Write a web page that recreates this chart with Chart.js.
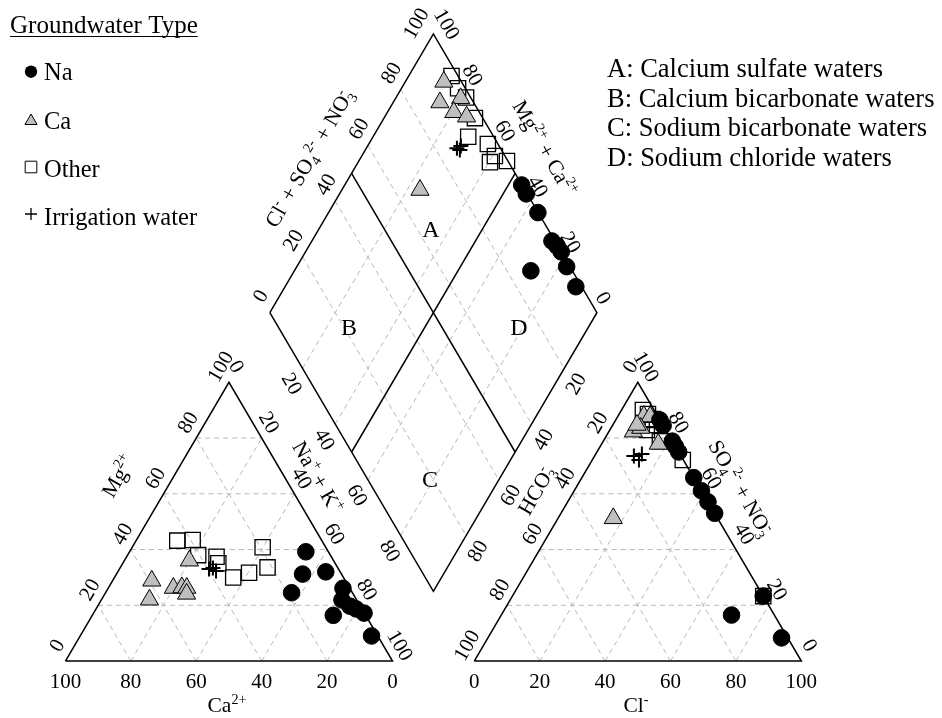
<!DOCTYPE html>
<html>
<head>
<meta charset="utf-8">
<title>Piper diagram</title>
<style>
  html, body { margin: 0; padding: 0; background: #fff; overflow: hidden; }
  canvas { display: block; }
</style>
<script src="https://cdn.jsdelivr.net/npm/chart.js@4/dist/chart.umd.min.js"></script>
</head>
<body>
<canvas id="piper" width="942" height="718"></canvas>
<script>
// ---- Cation triangle, % meq/L: [Ca2+, Mg2+, Na+ + K+] ----
const cationNa = [
  [6.9, 39.2, 53.9], [11.9, 31.2, 56.9], [4.4, 32.0, 63.6], [18.6, 24.5, 56.9],
  [2.1, 26.1, 71.8], [4.5, 21.9, 73.6], [3.2, 19.7, 77.1], [0.1, 17.2, 82.7],
  [9.9, 16.4, 73.7], [1.9, 9.0, 89.1], [1.8, 18.7, 79.5]
];
const cationCa = [
  [59.2, 28.8, 12.0], [63.3, 22.0, 14.7], [53.9, 26.2, 19.9], [51.2, 26.4, 22.4],
  [49.8, 26.2, 24.0], [50.9, 24.1, 25.0], [44.1, 36.0, 19.9]
];
const cationOther = [
  [44.2, 43.2, 12.6], [39.4, 43.4, 17.2], [40.4, 38.0, 21.6], [35.1, 37.4, 27.5],
  [35.7, 35.1, 29.2], [33.7, 30.0, 36.3], [28.0, 31.7, 40.3], [21.4, 33.6, 45.0],
  [19.3, 40.8, 39.9]
];
const cationIrrigation = [[39.6, 33.0, 27.4], [38.2, 33.4, 28.4], [37.8, 32.3, 29.9]];

// ---- Anion triangle, % meq/L: [Cl-, SO4 2- + NO3-, HCO3-] ----
const anionNa = [
  [13.5, 86.5, 0], [15.5, 84.5, 0], [21.1, 78.9, 0], [23.0, 77.0, 0], [25.0, 75.0, 0],
  [34.2, 65.8, 0], [38.9, 61.1, 0], [42.9, 57.1, 0], [47.0, 53.0, 0], [76.7, 23.3, 0],
  [70.4, 16.5, 13.1], [89.8, 8.3, 1.9]
];
const anionCa = [
  [7.5, 82.3, 10.2], [7.9, 87.9, 4.2], [9.9, 87.7, 2.4], [17.3, 77.9, 4.8],
  [9.1, 83.6, 7.3], [16.9, 51.2, 31.9], [7.4, 84.7, 7.9]
];
const anionOther = [
  [6.5, 90.1, 3.4], [8.8, 88.6, 2.6], [11.2, 86.8, 2.0], [13.5, 84.7, 1.8],
  [11.3, 82.9, 5.8], [17.3, 78.9, 3.8], [27.7, 72.1, 0.2], [76.7, 23.3, 0.0],
  [10.5, 86.5, 3.0]
];
const anionIrrigation = [[12.0, 73.6, 14.4], [14.3, 72.1, 13.6], [14.1, 74.3, 11.6]];

// ---- Diamond, %: [Na+ + K+, Cl- + SO4 2- + NO3-] ----
const diamondNa = [
  [54.1, 99.9], [57.1, 99.7], [64.0, 99.9], [73.4, 99.1], [75.8, 99.7],
  [78.2, 100.0], [82.5, 99.0], [88.9, 98.2], [72.3, 87.3]
];
const diamondCa = [[11.8, 94.6], [14.3, 89.7], [19.9, 96.8], [20.3, 92.2], [25.0, 95.3], [23.9, 67.9]];
const diamondOther = [
  [13.1, 98.0], [17.3, 97.8], [21.4, 98.6], [27.8, 97.6], [29.1, 92.2],
  [36.4, 96.9], [40.7, 96.9], [40.3, 94.3], [45.3, 99.7]
];
const diamondIrrigation = [[27.7, 86.7], [28.5, 88.3], [28.9, 87.3]];

// ---- Axis ticks, grid and legend text ----
const tickValues = [0, 20, 40, 60, 80, 100];
const innerTickValues = [20, 40, 60, 80];
const gridValues = [20, 40, 60, 80];
const groupNames = ['Na', 'Ca', 'Other', 'Irrigation water'];
const legendTitle = 'Groundwater Type';
const regionLetters = ['A', 'B', 'C', 'D'];
const regionNames = [
  'A: Calcium sulfate waters',
  'B: Calcium bicarbonate waters',
  'C: Sodium bicarbonate waters',
  'D: Sodium chloride waters'
];

// ---- Piper geometry (triangle side = 100 units) ----
const H = Math.sqrt(3) / 2;
const ANION_X0 = 125;                      // left corner of the anion triangle
const DIA_LEFT = { x: 62.5, y: 100 * H + 12.5 * Math.sqrt(3) };

const cat = ([ca, mg, na]) => ({ x: na + mg / 2, y: mg * H });
const ani = ([cl, so4]) => ({ x: ANION_X0 + cl + so4 / 2, y: so4 * H });
const dia = ([na, s]) => ({ x: DIA_LEFT.x + (s + na) / 2, y: DIA_LEFT.y + (s - na) * H });

const SERIF = '"Liberation Serif", "Times New Roman", serif';

function lineSet(points, opts) {
  return Object.assign({
    type: 'scatter', data: points, showLine: true, pointRadius: 0,
    borderColor: '#000', borderWidth: 1.5, fill: false, tension: 0,
    clip: false, order: 90
  }, opts || {});
}
const gridStyle = { borderColor: '#b8b8b8', borderWidth: 1, borderDash: [5, 4], order: 100 };

const datasets = [];

// dashed grid
gridValues.forEach(v => {
  datasets.push(lineSet([cat([100 - v, v, 0]), cat([0, v, 100 - v])], gridStyle));
  datasets.push(lineSet([cat([v, 0, 100 - v]), cat([v, 100 - v, 0])], gridStyle));
  datasets.push(lineSet([cat([100 - v, 0, v]), cat([0, 100 - v, v])], gridStyle));
  datasets.push(lineSet([ani([0, v]), ani([100 - v, v])], gridStyle));
  datasets.push(lineSet([ani([v, 0]), ani([v, 100 - v])], gridStyle));
  datasets.push(lineSet([ani([100 - v, 0]), ani([0, 100 - v])], gridStyle));
  datasets.push(lineSet([dia([0, v]), dia([100, v])], gridStyle));
  datasets.push(lineSet([dia([v, 0]), dia([v, 100])], gridStyle));
});

// outlines and the A/B/C/D dividers
datasets.push(lineSet([cat([100, 0, 0]), cat([0, 0, 100]), cat([0, 100, 0]), cat([100, 0, 0])]));
datasets.push(lineSet([ani([0, 0]), ani([100, 0]), ani([0, 100]), ani([0, 0])]));
datasets.push(lineSet([dia([0, 0]), dia([100, 0]), dia([100, 100]), dia([0, 100]), dia([0, 0])]));
datasets.push(lineSet([dia([50, 0]), dia([50, 100])]));
datasets.push(lineSet([dia([0, 50]), dia([100, 50])]));

// sample markers
const markerStyles = {
  Na:    { pointStyle: 'circle',   pointRadius: 8.3,  backgroundColor: '#000', borderColor: '#000', borderWidth: 1, order: 20 },
  Ca:    { pointStyle: 'triangle', pointRadius: 10.5, backgroundColor: '#bfbfbf', borderColor: '#000', borderWidth: 1, order: 30 },
  Other: { pointStyle: 'rect',     pointRadius: 10.8, backgroundColor: 'rgba(0,0,0,0)', borderColor: '#000', borderWidth: 1.3, order: 40 },
  Irr:   { pointStyle: 'cross',    pointRadius: 7.5,  backgroundColor: '#000', borderColor: '#000', borderWidth: 2, order: 10 }
};
function markers(label, pts, style) {
  return Object.assign({ type: 'scatter', label, data: pts, showLine: false, clip: false, pointHoverRadius: style.pointRadius }, style);
}
datasets.push(markers(groupNames[2], cationOther.map(cat), markerStyles.Other));
datasets.push(markers(groupNames[2], anionOther.map(ani), markerStyles.Other));
datasets.push(markers(groupNames[2], diamondOther.map(dia), markerStyles.Other));
datasets.push(markers(groupNames[1], cationCa.map(cat), markerStyles.Ca));
datasets.push(markers(groupNames[1], anionCa.map(ani), markerStyles.Ca));
datasets.push(markers(groupNames[1], diamondCa.map(dia), markerStyles.Ca));
datasets.push(markers(groupNames[0], cationNa.map(cat), markerStyles.Na));
datasets.push(markers(groupNames[0], anionNa.map(ani), markerStyles.Na));
datasets.push(markers(groupNames[0], diamondNa.map(dia), markerStyles.Na));
datasets.push(markers(groupNames[3], cationIrrigation.map(cat), markerStyles.Irr));
datasets.push(markers(groupNames[3], anionIrrigation.map(ani), markerStyles.Irr));
datasets.push(markers(groupNames[3], diamondIrrigation.map(dia), markerStyles.Irr));

// ---- text helpers ----
function drawRich(ctx, runs, cx, cy, deg, size) {
  const small = size * 0.66;
  const fontOf = s => `${s}px ${SERIF}`;
  const parts = runs.map(r => {
    if (typeof r === 'string') {
      ctx.font = fontOf(size);
      return { t: r, w: ctx.measureText(r).width };
    }
    ctx.font = fontOf(small);
    const ws = r.sup ? ctx.measureText(r.sup).width : 0;
    const wb = r.sub ? ctx.measureText(r.sub).width : 0;
    return { sup: r.sup, sub: r.sub, w: Math.max(ws, wb) };
  });
  const total = parts.reduce((a, p) => a + p.w, 0);
  ctx.save();
  ctx.translate(cx, cy);
  ctx.rotate(deg * Math.PI / 180);
  ctx.textAlign = 'left';
  ctx.textBaseline = 'alphabetic';
  let x = -total / 2;
  const base = size * 0.34;
  parts.forEach(p => {
    if (p.t !== undefined) {
      ctx.font = fontOf(size);
      ctx.fillText(p.t, x, base);
    } else {
      ctx.font = fontOf(small);
      if (p.sup) ctx.fillText(p.sup, x, base - size * 0.40);
      if (p.sub) ctx.fillText(p.sub, x, base + size * 0.22);
    }
    x += p.w;
  });
  ctx.restore();
}

function tickText(ctx, text, px, py, deg, size) {
  ctx.save();
  ctx.translate(px, py);
  ctx.rotate(deg * Math.PI / 180);
  ctx.font = `${size}px ${SERIF}`;
  ctx.textAlign = 'center';
  ctx.textBaseline = 'alphabetic';
  ctx.fillText(text, 0, size * 0.34);
  ctx.restore();
}

const TICK = 21;
const tickRows = [
  { values: tickValues,      at: v => cat([v, 0, 100 - v]),   dx: 0,   dy: 20,  rot: 0 },    // Ca2+
  { values: tickValues,      at: v => cat([100 - v, v, 0]),   dx: -9,  dy: -16, rot: -60 },  // Mg2+
  { values: tickValues,      at: v => cat([0, 100 - v, v]),   dx: 8,   dy: -16, rot: 60 },   // Na+ + K+
  { values: tickValues,      at: v => ani([v, 0]),            dx: 0,   dy: 20,  rot: 0 },    // Cl-
  { values: tickValues,      at: v => ani([0, 100 - v]),      dx: -8,  dy: -16, rot: -60 },  // HCO3-
  { values: tickValues,      at: v => ani([100 - v, v]),      dx: 9,   dy: -16, rot: 60 },   // SO4 + NO3
  { values: tickValues,      at: v => dia([0, v]),            dx: -10, dy: -17, rot: -60, top: [-18, -11] },
  { values: tickValues,      at: v => dia([100 - v, 100]),    dx: 7,   dy: -15, rot: 60,  top: [14, -10] },
  { values: innerTickValues, at: v => dia([v, 0]),            dx: -10, dy: 15,  rot: 60 },
  { values: innerTickValues, at: v => dia([100, 100 - v]),    dx: 11,  dy: 15,  rot: -60 }
];

const axisTitles = [
  { runs: ['Mg', { sup: '2+' }], x: 118, y: 476, rot: -60 },
  { runs: ['Na', { sup: '+' }, ' + K', { sup: '+' }], x: 318, y: 477, rot: 60 },
  { runs: ['Ca', { sup: '2+' }], x: 227, y: 705, rot: 0 },
  { runs: ['Cl', { sup: '-' }], x: 636, y: 705, rot: 0 },
  { runs: ['Cl', { sup: '-' }, ' + SO', { sub: '4' }, { sup: '2-' }, ' + NO', { sub: '3', sup: '-' }], x: 309, y: 158, rot: -60 },
  { runs: ['Mg', { sup: '2+' }, ' + Ca', { sup: '2+' }], x: 545, y: 148, rot: 60 },
  { runs: ['HCO', { sub: '3', sup: '-' }], x: 536, y: 490, rot: -60 },
  { runs: ['SO', { sub: '4' }, { sup: '2-' }, ' + NO', { sub: '3', sup: '-' }], x: 741, y: 488, rot: 60 }
];

const regionPos = [[431, 229], [349, 327], [430, 479], [519, 327]];

function legendMarker(ctx, kind, x, y) {
  ctx.save();
  ctx.lineWidth = 1;
  ctx.strokeStyle = '#000';
  ctx.beginPath();
  if (kind === 0) {
    ctx.fillStyle = '#000';
    ctx.arc(x, y, 6.2, 0, Math.PI * 2);
    ctx.fill();
  } else if (kind === 1) {
    const r = 7;
    ctx.fillStyle = '#bfbfbf';
    ctx.moveTo(x, y - r);
    ctx.lineTo(x + r * Math.sin(2 * Math.PI / 3), y - r * Math.cos(2 * Math.PI / 3));
    ctx.lineTo(x + r * Math.sin(4 * Math.PI / 3), y - r * Math.cos(4 * Math.PI / 3));
    ctx.closePath();
    ctx.fill();
    ctx.stroke();
  } else if (kind === 2) {
    ctx.rect(x - 5.8, y - 5.8, 11.6, 11.6);
    ctx.stroke();
  } else {
    ctx.lineWidth = 1.3;
    ctx.moveTo(x - 6, y); ctx.lineTo(x + 6, y);
    ctx.moveTo(x, y - 6); ctx.lineTo(x, y + 6);
    ctx.stroke();
  }
  ctx.restore();
}

const textPlugin = {
  id: 'piperText',
  afterDatasetsDraw(chart) {
    const { ctx } = chart;
    const sx = chart.scales.x, sy = chart.scales.y;
    const px = p => [sx.getPixelForValue(p.x), sy.getPixelForValue(p.y)];
    ctx.save();
    ctx.fillStyle = '#000';

    // tick labels
    tickRows.forEach(row => {
      row.values.forEach(v => {
        const [x, y] = px(row.at(v));
        let dx = row.dx, dy = row.dy;
        if (row.top && v === 100) { dx = row.top[0]; dy = row.top[1]; }
        tickText(ctx, String(v), x + dx, y + dy, row.rot, TICK);
      });
    });

    // axis titles
    axisTitles.forEach(t => drawRich(ctx, t.runs, t.x, t.y, t.rot, 21.5));

    // region letters
    regionLetters.forEach((l, i) => tickText(ctx, l, regionPos[i][0], regionPos[i][1], 0, 24));

    // group legend
    ctx.font = `25px ${SERIF}`;
    ctx.textAlign = 'left';
    ctx.textBaseline = 'alphabetic';
    ctx.fillText(legendTitle, 10, 33);
    const tw = ctx.measureText(legendTitle).width;
    ctx.beginPath();
    ctx.lineWidth = 1.2;
    ctx.strokeStyle = '#000';
    ctx.moveTo(10, 36.5);
    ctx.lineTo(10 + tw, 36.5);
    ctx.stroke();
    const itemBase = [80, 128.5, 177, 225];
    const markY = [71.7, 121, 167, 214];
    ctx.font = `24.5px ${SERIF}`;
    groupNames.forEach((g, i) => {
      legendMarker(ctx, i, 31, markY[i]);
      ctx.fillText(g, 44, itemBase[i]);
    });

    // water type key
    ctx.font = `26.5px ${SERIF}`;
    regionNames.forEach((t, i) => ctx.fillText(t, 607, 77 + i * 29.5));

    ctx.restore();
  }
};

new Chart(document.getElementById('piper'), {
  type: 'scatter',
  data: { datasets },
  options: {
    responsive: false,
    devicePixelRatio: 1,
    animation: false,
    events: [],
    layout: { padding: 0, autoPadding: false },
    plugins: { legend: { display: false }, tooltip: { enabled: false } },
    scales: {
      x: { type: 'linear', min: -20, max: 268, display: false },
      y: { type: 'linear', min: -17.7, max: 205.4, display: false }
    }
  },
  plugins: [textPlugin]
});
</script>
</body>
</html>
